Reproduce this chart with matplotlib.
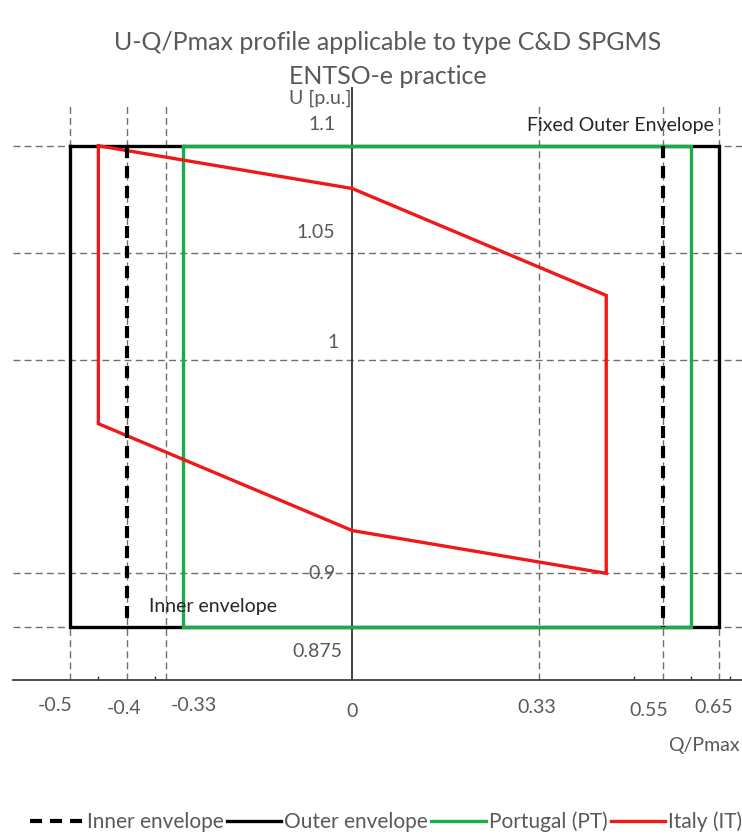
import numpy as np
import matplotlib.pyplot as plt
from matplotlib.lines import Line2D

plt.rcParams['font.family'] = ['Lato', 'DejaVu Sans']

# data
outer_q = [-0.5, 0.65, 0.65, -0.5, -0.5]
outer_u = [1.1, 1.1, 0.875, 0.875, 1.1]
inner_q = [-0.4, -0.4, np.nan, 0.55, 0.55]
inner_u = [1.1, 0.875, np.nan, 1.1, 0.875]
pt_q = [-0.3, 0.6, 0.6, -0.3, -0.3]
pt_u = [1.1, 1.1, 0.875, 0.875, 1.1]
it_q = [-0.45, 0.0, 0.45, 0.45, 0.0, -0.45, -0.45]
it_u = [1.1, 1.08, 1.03, 0.9, 0.92, 0.97, 1.1]

grid_q = [-0.5, -0.4, -0.33, 0.33, 0.55, 0.65]
grid_u = [1.1, 1.05, 1.0, 0.9, 0.875]
xtick_vals = [-0.5, -0.4, -0.33, 0, 0.33, 0.55, 0.65]
xtick_text = ['-0.5', '-0.4', '-0.33', '0', '0.33', '0.55', '0.65']
ytick_vals = [1.1, 1.05, 1.0, 0.9, 0.875]
ytick_text = ['1.1', '1.05', '1', '0.9', '0.875']
minor_q = [-0.45, -0.35, 0.5, 0.6, 0.67]

# label offsets in pixels (layout only)
xtick_off = [(-15, -25), (-3, -28), (28, -25), (0, -31), (-2, -27), (-14, -30), (-5, -27)]
ytick_off = [(-17, 21), (-17, 20), (-14, 17), (-17, 0), (-10, -25)]

W, H = 742, 838
gray = '#595959'

fig = plt.figure(figsize=(W / 100, H / 100), dpi=100)
ax = fig.add_axes([13 / W, 158 / H, 729 / W, 593 / H])
ax.set_xlim(-0.6013, 0.6906)
ax.set_ylim(0.8501, 1.1275)

for s in ['top', 'right', 'left']:
    ax.spines[s].set_visible(False)
ax.spines['bottom'].set_color('#404040')
ax.spines['bottom'].set_linewidth(1.3)
ax.set_xticks(minor_q)
ax.tick_params(axis='x', direction='in', length=3, width=1, color='#404040', labelbottom=False)
ax.set_yticks([])

# dashed guide lines
for q in grid_q:
    ax.plot([q, q], [0.85, 1.12], color='#6f6f6f', lw=1.0, ls=(0, (5, 3)), zorder=1)
for u in grid_u:
    ax.axhline(u, color='#6f6f6f', lw=1.0, ls=(0, (5, 3)), zorder=1)
ax.axvline(0, color='#333333', lw=1.3, zorder=2)

ax.plot(outer_q, outer_u, color='black', lw=2.4, zorder=3, solid_joinstyle='miter')
ax.plot(pt_q, pt_u, color='#1aab4b', lw=2.4, zorder=4, solid_joinstyle='miter')
ax.plot(it_q, it_u, color='#f01818', lw=2.4, zorder=5, solid_joinstyle='miter')
ax.plot(inner_q, inner_u, color='black', lw=3.0, ls=(0, (2.9, 1.9)), zorder=6)

for v, t, off in zip(xtick_vals, xtick_text, xtick_off):
    ax.annotate(t, (v, 0.8501), xytext=off, textcoords='offset pixels',
                ha='center', va='center', fontsize=14, color=gray, annotation_clip=False)
for v, t, off in zip(ytick_vals, ytick_text, ytick_off):
    ax.annotate(t, (0, v), xytext=off, textcoords='offset pixels',
                ha='right', va='center', fontsize=14, color=gray, annotation_clip=False)

def px(x, y):
    return x / W, 1 - y / H

fig.text(*px(320, 98), 'U [p.u.]', ha='center', va='center', fontsize=14, color=gray)
fig.text(*px(740, 745), 'Q/Pmax', ha='right', va='center', fontsize=14, color=gray)
fig.text(*px(527, 125), 'Fixed Outer Envelope', ha='left', va='center', fontsize=14, color='#262626')
fig.text(*px(149, 606), 'Inner envelope', ha='left', va='center', fontsize=14, color='#262626')

fig.text(*px(388, 43), 'U-Q/Pmax profile applicable to type C&D SPGMS', ha='center', va='center',
         fontsize=18, color=gray)
fig.text(*px(388, 77), 'ENTSO-e practice', ha='center', va='center', fontsize=18, color=gray)

handles = [
    Line2D([], [], color='black', lw=3.0, ls=(0, (2.9, 1.9))),
    Line2D([], [], color='black', lw=2.4),
    Line2D([], [], color='#1aab4b', lw=2.4),
    Line2D([], [], color='#f01818', lw=2.4),
]
labels = ['Inner envelope', 'Outer envelope', 'Portugal (PT)', 'Italy (IT)']
fig.legend(handles, labels, loc='center', bbox_to_anchor=(px(386, 822)), ncol=4, frameon=False,
           fontsize=15, labelcolor=gray, handlelength=2.6, handletextpad=0.15, columnspacing=0.15)

fig.savefig('out.png', dpi=100)
